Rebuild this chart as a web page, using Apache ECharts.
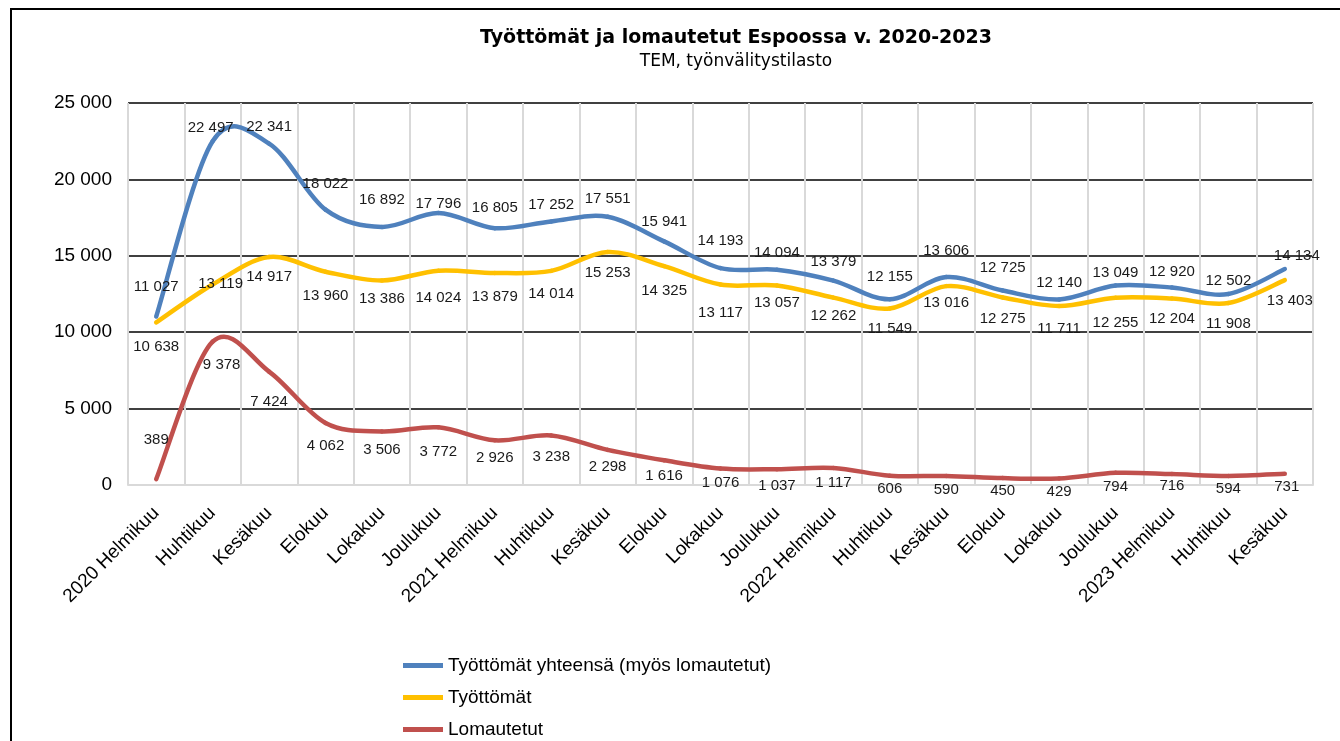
<!DOCTYPE html>
<html>
<head>
<meta charset="utf-8">
<script src="https://cdn.jsdelivr.net/npm/echarts@6/dist/echarts.min.js"></script>
<style>
  html, body { margin: 0; padding: 0; background: #fff; }
  #chart { width: 1340px; height: 741px; }
</style>
</head>
<body>
<div id="chart"></div>
<script>
const categories = ["2020 Helmikuu", "Huhtikuu", "Kesäkuu", "Elokuu", "Lokakuu", "Joulukuu",
  "2021 Helmikuu", "Huhtikuu", "Kesäkuu", "Elokuu", "Lokakuu", "Joulukuu",
  "2022 Helmikuu", "Huhtikuu", "Kesäkuu", "Elokuu", "Lokakuu", "Joulukuu",
  "2023 Helmikuu", "Huhtikuu", "Kesäkuu"];
const totalUnemployed = [11027, 22497, 22341, 18022, 16892, 17796, 16805, 17252, 17551, 15941, 14193,
  14094, 13379, 12155, 13606, 12725, 12140, 13049, 12920, 12502, 14134];
const unemployed = [10638, 13119, 14917, 13960, 13386, 14024, 13879, 14014, 15253, 14325, 13117,
  13057, 12262, 11549, 13016, 12275, 11711, 12255, 12204, 11908, 13403];
const laidOff = [389, 9378, 7424, 4062, 3506, 3772, 2926, 3238, 2298, 1616, 1076,
  1037, 1117, 606, 590, 450, 429, 794, 716, 594, 731];
const seriesNames = ["Työttömät yhteensä (myös lomautetut)", "Työttömät", "Lomautetut"];
const titleText = "Työttömät ja lomautetut Espoossa v. 2020-2023";
const subtitleText = "TEM, työnvälitystilasto";

/* ---- styling (label placement as in the original Excel chart) ---- */
const FONT = "'Liberation Sans', Arial, sans-serif";
const COLORS = ['#4F81BD', '#FFC000', '#C0504D'];
const LINE_W = 4.5;
const labelDist = [
  [22, 6, 9, 18, 19, 2, 13, 9, 10, 12, 20, 9, 11, 15, 19, 15, 9, 5, 8, 6, 6],
  [17, -8, 12, 17, 11, 20, 16, 15, 13, 17, 21, 10, 11, 13, 9, 14, 15, 18, 13, 13, 13],
  [32, 16, 23, 15, 11, 17, 10, 14, 9, 8, 7, 9, 7, 6, 6, 5, 6, 6, 4, 5, 5]
];
const labelPos = ['top', 'bottom', 'bottom'];
const labelShiftX = [
  { 1: -2, 20: 12 },
  { 1: 8, 20: 5 },
  { 1: 9, 20: 2 }
];
const firstLabelPos = [null, null, 'top'];

const fmt = v => String(v).replace(/\B(?=(\d{3})+(?!\d))/g, ' ');

const chart = echarts.init(document.getElementById('chart'), null, { renderer: 'canvas' });

/* smooth curve (Excel-like cardinal spline) drawn via the axis scales */
function curveSeries(k, values) {
  const n = values.length;
  return {
    name: seriesNames[k], type: 'custom', coordinateSystem: 'cartesian2d',
    itemStyle: { color: COLORS[k] },
    encode: { x: 0, y: 1 },
    silent: true,
    z: 10 - k,
    data: values.map((v, i) => [i, v]),
    renderItem: function (params, api) {
      const i = params.dataIndex;
      if (i >= n - 1) return null;
      const P = j => api.coord([Math.max(0, Math.min(n - 1, j)), values[Math.max(0, Math.min(n - 1, j))]]);
      const p0 = P(i - 1), p1 = P(i), p2 = P(i + 1), p3 = P(i + 2);
      const t = 1 / 6;
      return {
        type: 'bezierCurve',
        shape: {
          x1: p1[0], y1: p1[1],
          cpx1: p1[0] + (p2[0] - p0[0]) * t, cpy1: p1[1] + (p2[1] - p0[1]) * t,
          cpx2: p2[0] - (p3[0] - p1[0]) * t, cpy2: p2[1] - (p3[1] - p1[1]) * t,
          x2: p2[0], y2: p2[1]
        },
        style: { fill: null, stroke: COLORS[k], lineWidth: LINE_W, lineCap: 'round' }
      };
    }
  };
}

/* line series with a hidden line, carrying the data labels */
function labelSeries(k, values) {
  return {
    name: seriesNames[k] + ' ', type: 'line', showSymbol: true, symbol: 'circle', symbolSize: 0.1,
    lineStyle: { width: 0, opacity: 0 }, itemStyle: { color: 'rgba(0,0,0,0)' },
    emphasis: { disabled: true }, silent: true, z: 20,
    label: { show: true, fontFamily: FONT, fontSize: 15, color: '#1a1a1a', formatter: p => fmt(p.value) },
    data: values.map((v, i) => ({
      value: v,
      label: {
        position: (i === 0 && firstLabelPos[k]) ? firstLabelPos[k] : labelPos[k],
        distance: labelDist[k][i],
        offset: [labelShiftX[k][i] || 0, 0]
      }
    }))
  };
}

chart.setOption({
  animation: false,
  backgroundColor: '#fff',
  graphic: [{
    type: 'rect', silent: true,
    shape: { x: 11, y: 9, width: 1400, height: 800 },
    style: { fill: 'none', stroke: '#000', lineWidth: 2 }
  }],
  title: [{
    text: titleText,
    left: 731, top: 24, textAlign: 'center',
    textStyle: { fontFamily: "'DejaVu Sans', sans-serif", fontSize: 19, fontWeight: 'bold', color: '#000' }
  }, {
    text: subtitleText,
    left: 731, top: 48, textAlign: 'center',
    textStyle: { fontFamily: "'DejaVu Sans', sans-serif", fontSize: 17, fontWeight: 'normal', color: '#000' }
  }],
  legend: {
    orient: 'vertical', left: 403, top: 655, padding: 0,
    itemWidth: 40, itemHeight: 5, itemGap: 11,
    icon: 'rect',
    textStyle: { fontFamily: FONT, fontSize: 19, color: '#000', lineHeight: 21 },
    data: seriesNames
  },
  grid: { left: 128, top: 103, right: 27, bottom: 256, containLabel: false },
  xAxis: {
    type: 'category', data: categories, boundaryGap: true,
    axisLine: { show: true, lineStyle: { color: '#d9d9d9', width: 2 } },
    axisTick: { show: false },
    splitLine: { show: true, interval: 0, lineStyle: { color: '#d9d9d9', width: 2 } },
    axisLabel: { interval: 0, rotate: 45, margin: 25, fontFamily: FONT, fontSize: 19, color: '#000' }
  },
  yAxis: {
    type: 'value', min: 0, max: 25000, interval: 5000,
    axisLine: { show: false }, axisTick: { show: false },
    splitLine: { show: true, lineStyle: { color: '#000', width: 1.5 } },
    axisLabel: { margin: 16, fontFamily: FONT, fontSize: 19, color: '#000', formatter: v => fmt(v) }
  },
  series: [
    curveSeries(0, totalUnemployed),
    curveSeries(1, unemployed),
    curveSeries(2, laidOff),
    labelSeries(0, totalUnemployed),
    labelSeries(1, unemployed),
    labelSeries(2, laidOff)
  ]
});
</script>
</body>
</html>
